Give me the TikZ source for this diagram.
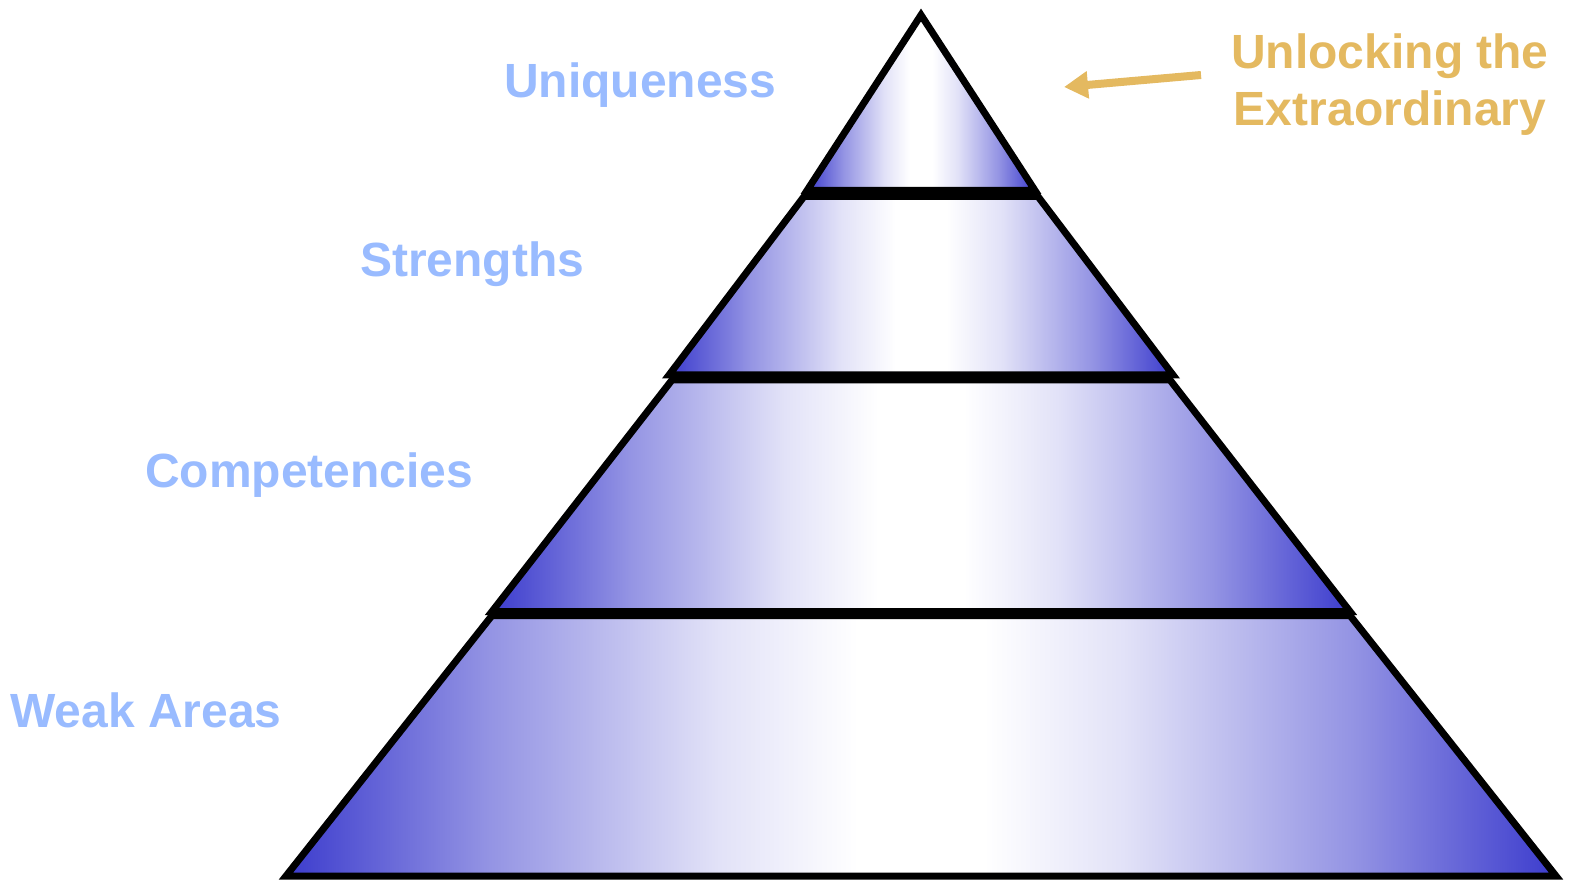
\documentclass[tikz,border=0pt]{standalone}
\usepackage{fontspec}
\setmainfont{Liberation Sans}
\usetikzlibrary{arrows.meta}
\definecolor{pyrblue}{RGB}{60,60,205}
\definecolor{lblblue}{RGB}{153,187,255}
\definecolor{goldtxt}{RGB}{228,185,96}
\pgfdeclarehorizontalshading{pyrshade}{100bp}{
  color(0bp)=(pyrblue);
  color(25bp)=(pyrblue);
  color(33bp)=(pyrblue!55!white);
  color(42bp)=(pyrblue!15!white);
  color(47.5bp)=(white);
  color(52.5bp)=(white);
  color(58bp)=(pyrblue!15!white);
  color(67bp)=(pyrblue!55!white);
  color(75bp)=(pyrblue);
  color(100bp)=(pyrblue)}
\tikzset{
  piece/.style={draw=black, line width=7pt, line join=miter, shading=pyrshade},
  lbl/.style={text=lblblue, font=\fontsize{48}{57}\selectfont\bfseries, inner sep=0pt, anchor=base west},
  goldlbl/.style={text=goldtxt, font=\fontsize{48}{57}\selectfont\bfseries, inner sep=0pt, anchor=base},
  goldarrow/.style={draw=goldtxt, line width=8pt, -{Triangle[length=24pt,width=26pt]}}
}
\begin{document}
\begin{tikzpicture}[x=1pt,y=-1pt]
\useasboundingbox (0,0) rectangle (1569,882);
% pyramid pieces
\path[piece] (921,15) -- (1035,190.5) -- (807,190.5) -- cycle;
\path[piece] (804,196.5) -- (1038,196.5) -- (1173,375) -- (669,375) -- cycle;
\path[piece] (672,380) -- (1170,380) -- (1350,611.5) -- (492,611.5) -- cycle;
\path[piece] (492,615.5) -- (1350,615.5) -- (1556,876) -- (286,876) -- cycle;
% labels
\node[lbl] (uniq) at (504,98) {Uniqueness};
\node[lbl] (str) at (360,277) {Strengths};
\node[lbl] (comp) at (145,487) {Competencies};
\node[lbl] (weak) at (10,727) {Weak Areas};
\node[goldlbl] (unl) at (1390,69) {Unlocking the};
\node[goldlbl] (ext) at (1390,126) {Extraordinary};
% arrow
\coordinate (arrS) at (1201,75);
\coordinate (arrE) at (1064,87);
\draw[goldarrow] (arrS) -- (arrE);
\end{tikzpicture}
\end{document}
